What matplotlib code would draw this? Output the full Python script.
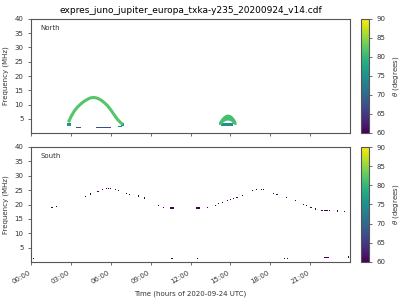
import numpy as np
import matplotlib.pyplot as plt
from matplotlib import cm, colors
from matplotlib.ticker import FuncFormatter

# North: main arc centre line (hours, MHz)
arc_t = [2.8, 3.0, 3.25, 3.5, 3.75, 4.0, 4.25, 4.5, 4.75, 5.0, 5.25, 5.5,
         5.75, 6.0, 6.25, 6.5, 6.75, 6.9]
arc_f = [3.8, 5.8, 7.8, 9.2, 10.3, 11.2, 11.9, 12.4, 12.5, 12.2, 11.6, 10.7,
         9.6, 8.1, 6.4, 4.8, 3.6, 3.1]
arc_theta = 82

# North: second blob
blob_t = [14.1, 14.3, 14.45, 14.6, 14.75, 14.9, 15.05, 15.2, 15.3, 15.42]
blob_hi = [3.9, 5.3, 6.0, 6.5, 6.7, 6.6, 6.3, 5.6, 5.0, 3.9]
blob_lo = [3.0, 3.2, 4.0, 4.4, 4.6, 4.5, 4.2, 3.3, 3.1, 3.0]
blob_theta = 81

# North: low segments (start h, end h, low MHz, high MHz, theta)
seg_t0 = [2.72, 3.37, 4.9, 6.55, 6.75, 14.3]
seg_t1 = [3.0, 3.75, 5.97, 6.8, 6.95, 15.2]
seg_lo = [2.6, 1.9, 1.75, 2.0, 2.6, 2.6]
seg_hi = [3.6, 2.3, 2.15, 2.4, 3.4, 3.4]
seg_theta = [75, 68, 67, 74, 75, 75]

# South: emission points (hours, MHz), theta ~60
south_t = [0.2, 1.56, 1.93, 4.06, 4.47, 5.02, 5.39, 5.69, 5.83, 5.97, 6.32,
           6.57, 7.15, 7.4, 8.1, 8.55, 9.6, 9.96, 10.5, 10.6, 10.7, 10.6,
           12.45, 12.55, 12.65, 12.54, 13.3, 13.87, 14.1, 14.4, 14.75, 15.0,
           15.25, 15.5, 15.88, 16.68, 16.98, 17.35, 17.5, 18.24, 18.5, 19.24,
           19.87, 20.5, 20.75, 21.07, 21.4, 21.83, 21.95, 22.1, 22.2, 22.33,
           22.45, 23.08, 23.58, 19.07, 19.32, 22.08, 22.2, 22.32, 22.4, 23.9]
south_f = [1.3, 19.1, 19.45, 22.9, 23.7, 24.6, 25.3, 25.65, 25.65, 25.65,
           25.3, 24.85, 23.9, 23.6, 23.0, 22.3, 19.8, 19.1, 18.8, 18.8, 18.8,
           1.3, 18.8, 18.8, 18.8, 1.3, 19.0, 19.8, 20.3, 20.8, 21.4, 21.9,
           22.2, 22.5, 23.2, 24.85, 25.2, 25.3, 25.3, 23.9, 23.5, 22.5, 21.4,
           20.1, 19.8, 19.0, 18.5, 17.95, 17.95, 17.95, 17.95, 17.95, 17.95,
           17.8, 17.5, 1.3, 1.3, 1.5, 1.5, 1.5, 1.5, 1.8]
south_theta = 60

hour_ticks = [0, 3, 6, 9, 12, 15, 18, 21]

cmap = cm.viridis
norm = colors.Normalize(vmin=60, vmax=90)
fs = 5
grey = '#555555'

fig = plt.figure(figsize=(4, 3), dpi=100)
ax1 = fig.add_axes([0.078, 0.557, 0.797, 0.38])
ax2 = fig.add_axes([0.078, 0.127, 0.797, 0.383])
cax1 = fig.add_axes([0.9025, 0.557, 0.02, 0.38])
cax2 = fig.add_axes([0.9025, 0.127, 0.02, 0.383])

for t0, t1, lo, hi, th in zip(seg_t0, seg_t1, seg_lo, seg_hi, seg_theta):
    ax1.fill_between([t0, t1], [lo, lo], [hi, hi], color=cmap(norm(th)), lw=0)
ax1.plot(arc_t, arc_f, color=cmap(norm(arc_theta)), lw=2.2,
         solid_capstyle='butt')
ax1.fill_between(blob_t, blob_lo, blob_hi, color=cmap(norm(blob_theta)), lw=0)

ax2.scatter(south_t, south_f, c=[south_theta] * len(south_t), cmap=cmap,
            norm=norm, marker='s', s=0.8, lw=0)

for ax, name in [(ax1, 'North'), (ax2, 'South')]:
    ax.set_xlim(0, 24)
    ax.set_ylim(0.1, 40)
    ax.set_yticks([5, 10, 15, 20, 25, 30, 35, 40])
    ax.set_xticks(hour_ticks)
    ax.tick_params(labelsize=fs, colors=grey, length=2, width=0.6,
                   labelcolor='#333333')
    for sp in ax.spines.values():
        sp.set_color(grey)
        sp.set_linewidth(0.8)
    ax.set_ylabel('Frequency (MHz)', fontsize=fs, color='#333333')
    ax.text(0.03, 0.9, name, transform=ax.transAxes, fontsize=fs,
            color='#333333')

ax1.set_xticklabels([])
ax2.xaxis.set_major_formatter(FuncFormatter(lambda v, p: '%02d:00' % int(v)))
plt.setp(ax2.get_xticklabels(), rotation=30, ha='right')
ax2.set_xlabel('Time (hours of 2020-09-24 UTC)', fontsize=fs, color='#333333')

ax1.set_title('expres_juno_jupiter_europa_txka-y235_20200924_v14.cdf',
              fontsize=6.5, pad=4)

sm = cm.ScalarMappable(norm=norm, cmap=cmap)
for cax in (cax1, cax2):
    cb = fig.colorbar(sm, cax=cax)
    cb.set_ticks([60, 65, 70, 75, 80, 85, 90])
    cb.ax.tick_params(labelsize=fs, colors=grey, length=2, width=0.6,
                      labelcolor='#333333')
    cb.outline.set_edgecolor(grey)
    cb.outline.set_linewidth(0.8)
    cb.set_label(r'$\theta$ (degrees)', fontsize=fs, color='#333333')

fig.savefig('out.png', dpi=100)
